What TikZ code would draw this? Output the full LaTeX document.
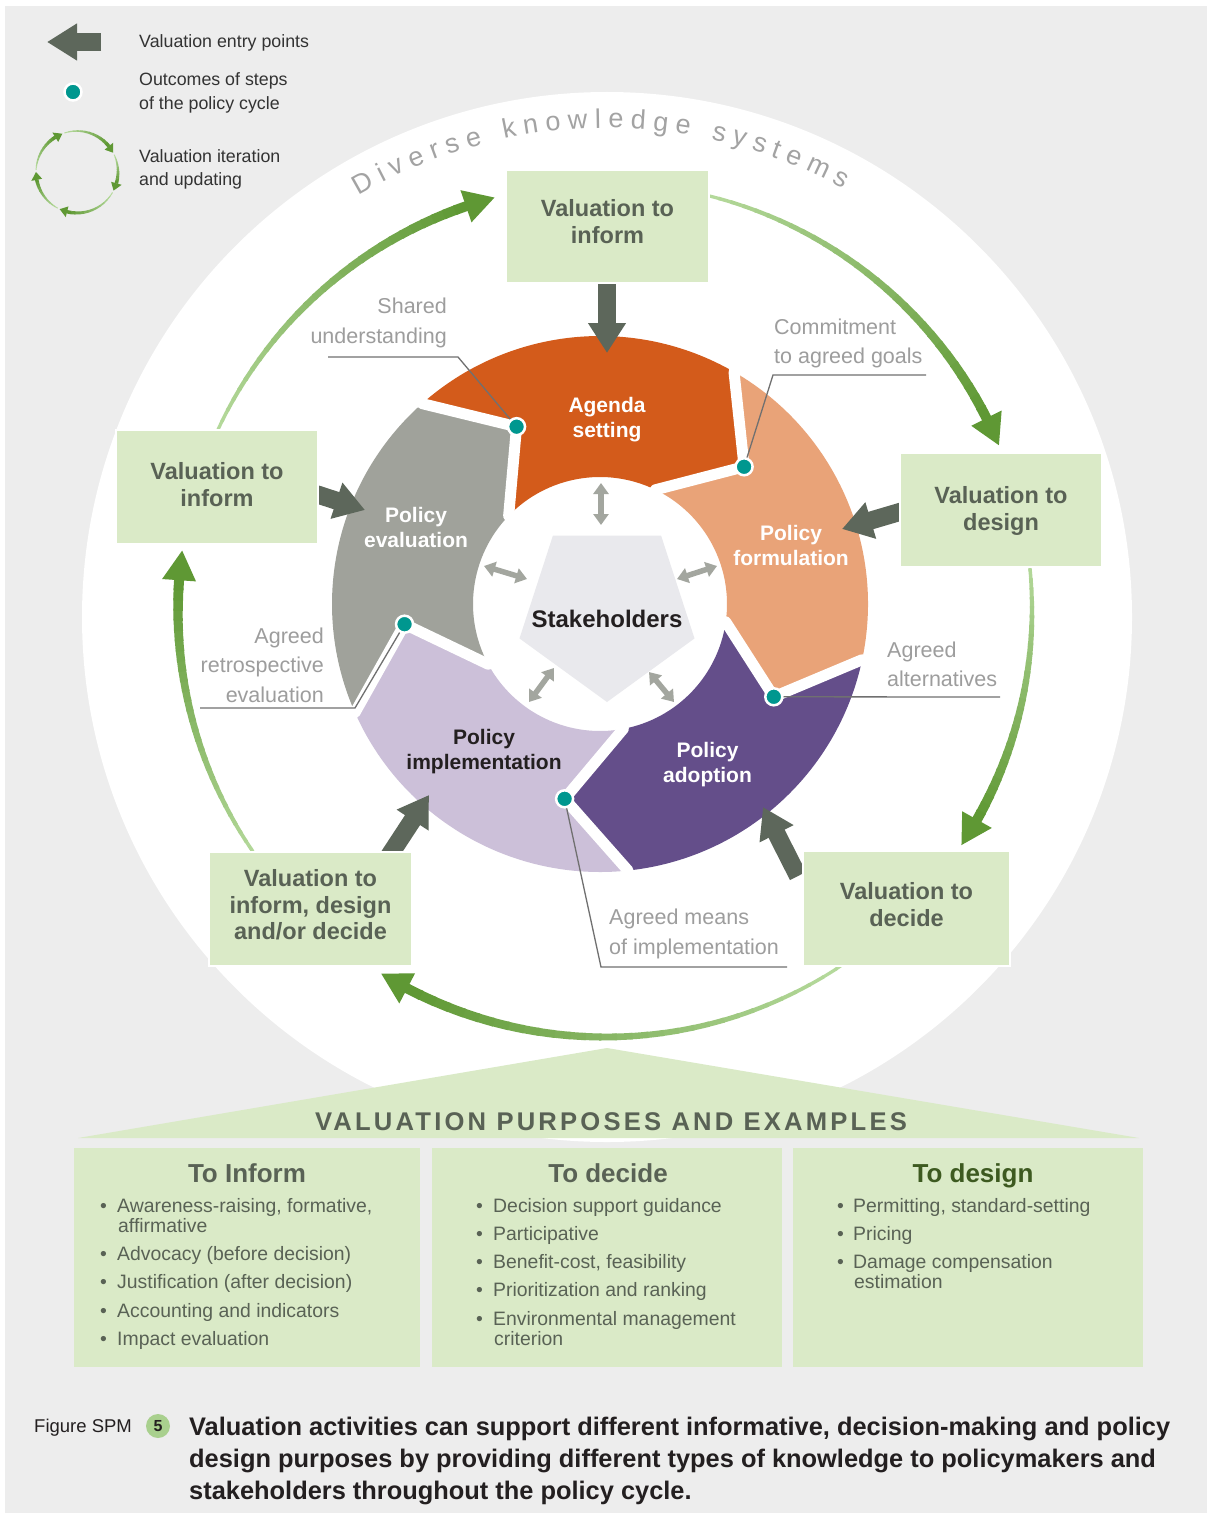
\documentclass[tikz,border=0pt]{standalone}
\usepackage{fontspec}
\setmainfont{Liberation Sans}
\usetikzlibrary{arrows.meta}

\definecolor{bggray}{HTML}{EDEDED}
\definecolor{boxgreen}{HTML}{DAEAC7}
\definecolor{boxtext}{HTML}{596255}
\definecolor{darkarrow}{HTML}{5D675B}
\definecolor{agendac}{HTML}{D35B1B}
\definecolor{formulc}{HTML}{E9A378}
\definecolor{adoptc}{HTML}{644E8A}
\definecolor{implemc}{HTML}{CCC0D9}
\definecolor{evalc}{HTML}{A0A29B}
\definecolor{tealdot}{HTML}{00978F}
\definecolor{gdark}{HTML}{5F9834}
\definecolor{glight}{HTML}{B7DB9E}
\definecolor{stakec}{HTML}{E9E9ED}
\definecolor{dblarrow}{HTML}{A3A69F}
\definecolor{calloutc}{HTML}{9D9D9D}
\definecolor{leaderc}{HTML}{707070}
\definecolor{designgreen}{HTML}{3D5A20}
\definecolor{legendtext}{HTML}{333333}
\definecolor{captiontext}{HTML}{231F20}
\definecolor{circgreen}{HTML}{A9D08E}
\definecolor{diversec}{HTML}{A3A3A3}

\newcommand\setfs[2]{\fontsize{#1pt}{#2pt}\selectfont}

% tapered, shaded arc with arrow head: radius, start, body end, head length (deg), w0, w1, head width, steps
\newcommand\taparc[8]{%
  \foreach \i in {1,...,#8}{%
    \pgfmathsetmacro\angA{#2+(#3-(#2))*(\i-1)/#8}%
    \pgfmathsetmacro\angB{#2+(#3-(#2))*\i/#8+0.3}%
    \pgfmathsetmacro\ww{#5+(#6-(#5))*(\i-1)/(#8-1)}%
    \pgfmathtruncatemacro\pc{100*(\i-1)/(#8-1)}%
    \draw[line width=\ww pt, gdark!\pc!glight] (\angA:#1) arc[start angle=\angA, end angle=\angB, radius=#1];%
  }%
  \fill[gdark] (#3:#1+#7/2) -- (#3+#4:#1) -- (#3:#1-#7/2) -- cycle;%
}

\tikzset{
  seglabel/.style={font=\setfs{21}{25}\bfseries, text=white, align=center, inner sep=0},
  callout/.style={font=\setfs{21.5}{29.5}, text=calloutc, inner sep=0},
  leader/.style={draw=leaderc, line width=1.3pt},
  vbox/.style={fill=boxgreen, draw=white, line width=2pt, inner sep=0},
  vtext/.style={align=center, inner sep=0, text=boxtext, font=\setfs{23.5}{27}\bfseries},
  entry/.style={draw=darkarrow, line width=18pt, -{Triangle[width=36pt,length=30pt]}},
  dbl/.style={draw=dblarrow, line width=5.5pt, {Triangle[width=15pt,length=11pt]}-{Triangle[width=15pt,length=11pt]}},
  outdot/.style={circle, fill=tealdot, draw=white, line width=2.5pt, minimum size=17pt, inner sep=0},
  bul/.style={font=\setfs{19.4}{20}, text=boxtext, anchor=base west, inner sep=0},
  colbox/.style={fill=boxgreen, inner sep=0},
  head/.style={font=\setfs{26}{26}\bfseries, text=boxtext, anchor=base, inner sep=0},
  gap/.style={white, line width=11pt, line join=round},
}

\begin{document}
\begin{tikzpicture}[x=1pt,y=-1pt]
\useasboundingbox (0,0) rectangle (1211,1517);
\fill[white] (0,0) rectangle (1211,1517);
\fill[bggray] (5,6) rectangle (1207,1513);
\fill[white] (607,617) circle[radius=525];

% ---------- Diverse knowledge systems ----------
\begin{scope}[shift={(607,617)}]
\gdef\curpos{0}
\foreach \ch/\w in {D/19.5,i/6,v/13.5,e/15,r/9,s/13.5,e/15,{}/7.5,k/13.5,n/15,o/15,w/19.5,l/6,e/15,d/15,g/15,e/15,{}/7.5,s/13.5,y/13.5,s/13.5,t/7.5,e/15,m/22.5,s/13.5}{
  \pgfmathsetmacro\ang{-120.5+(\curpos+\w/2)*0.11717}
  \pgfmathsetmacro\rot{-1*(\ang)-90}
  \node[anchor=base, rotate=\rot, inner sep=0, text=diversec, font=\setfs{27}{27}] at (\ang:489) {\ch};
  \pgfmathsetmacro\nx{\curpos+\w+7.2}
  \xdef\curpos{\nx}
}
\end{scope}

% ---------- green iteration arcs ----------
\begin{scope}[shift={(605,610)}]
\taparc{427}{-157}{-109}{4}{3}{10}{34}{30}
\taparc{427}{-78}{-26.7}{4}{3}{10}{34}{30}
\taparc{427}{-8}{29.4}{4}{3}{10}{34}{30}
\taparc{427}{55}{117.6}{4}{3}{10}{34}{30}
\taparc{427}{143}{184}{4}{3}{10}{34}{30}
\end{scope}

% ---------- policy cycle ring ----------
\begin{scope}[shift={(600,604)}]
\fill[agendac] (-131.6:268) arc[start angle=-131.6, end angle=-60, radius=268] -- (-43.6:199) -- (-64.1:127)
   arc[start angle=-64.1, end angle=-136, radius=127] -- (-115.2:196) -- cycle;
\fill[formulc] (-60:268) arc[start angle=-60, end angle=12, radius=268] -- (28.1:197) -- (8.1:127)
   arc[start angle=8.1, end angle=-64.1, radius=127] -- (-43.6:199) -- cycle;
\fill[adoptc] (12:268) arc[start angle=12, end angle=84, radius=268] -- (100.3:198) -- (79.4:127)
   arc[start angle=79.4, end angle=8.1, radius=127] -- (28.1:197) -- cycle;
\fill[implemc] (84:268) arc[start angle=84, end angle=156.1, radius=268] -- (174.1:196.5) -- (151.7:127)
   arc[start angle=151.7, end angle=79.4, radius=127] -- (100.3:198) -- cycle;
\fill[evalc] (156.1:268) arc[start angle=156.1, end angle=228.4, radius=268] -- (244.8:196) -- (224:127)
   arc[start angle=224, end angle=151.7, radius=127] -- (174.1:196.5) -- cycle;
% white gaps
\draw[gap] (-131.6:290) -- (-131.6:268) -- (-115.2:196) -- (-136:127) -- (-136:110);
\draw[gap] (-60:290) -- (-60:268) -- (-43.6:199) -- (-64.1:127) -- (-64.1:110);
\draw[gap] (12:290) -- (12:268) -- (28.1:197) -- (8.1:127) -- (8.1:110);
\draw[gap] (84:290) -- (84:268) -- (100.3:198) -- (79.4:127) -- (79.4:110);
\draw[gap] (156.1:290) -- (156.1:268) -- (174.1:196.5) -- (151.7:127) -- (151.7:110);
% outcome points
\coordinate (d1) at (-115.2:196);
\coordinate (d2) at (-43.6:199);
\coordinate (d3) at (28.1:197);
\coordinate (d4) at (100.3:198);
\coordinate (d5) at (174.1:196.5);
\end{scope}

% ---------- stakeholders ----------
\begin{scope}[shift={(607,610)}]
\fill[stakec] (90:92) -- (162:92) -- (234:92) -- (306:92) -- (18:92) -- cycle;
\end{scope}
\node[font=\setfs{24}{24}\bfseries, text=captiontext, anchor=base, inner sep=0] (stake) at (607,627.5) {Stakeholders};

\coordinate (sa1) at (601,483); \coordinate (sa2) at (601,525);
\coordinate (sb1) at (484,566); \coordinate (sb2) at (527,579);
\coordinate (sc1) at (677,579); \coordinate (sc2) at (717,566);
\coordinate (sd1) at (554,668); \coordinate (sd2) at (529,702);
\coordinate (se1) at (649,672); \coordinate (se2) at (674,702);
\draw[dbl] (sa1) -- (sa2);
\draw[dbl] (sb1) -- (sb2);
\draw[dbl] (sc1) -- (sc2);
\draw[dbl] (sd1) -- (sd2);
\draw[dbl] (se1) -- (se2);

% ---------- callouts ----------
\node[callout, anchor=east, align=right] (cShared) at (447,323) {Shared\\understanding};
\node[callout, anchor=west, align=left] (cCommit) at (774,343.5) {Commitment\\to agreed goals};
\node[callout, anchor=west, align=left] (cAlt) at (887,664.5) {Agreed\\alternatives};
\node[callout, anchor=west, align=left] (cMeans) at (609,934) {Agreed means\\of implementation};
\node[callout, anchor=east, align=right] (cRetro) at (324,665) {Agreed\\retrospective\\evaluation};

\coordinate (l1a) at (328,357); \coordinate (l1b) at (458,357);
\coordinate (l2a) at (926,375); \coordinate (l2b) at (773,375);
\coordinate (l3a) at (1000,697);
\coordinate (l4a) at (787,967); \coordinate (l4b) at (601,967);
\coordinate (l5a) at (200,708); \coordinate (l5b) at (355,708);
\draw[leader] (l1a) -- (l1b) -- (d1);
\draw[leader] (l2a) -- (l2b) -- (d2);
\draw[leader] (l3a) -- (d3);
\draw[leader] (l4a) -- (l4b) -- (d4);
\draw[white, line width=4pt] (l5b) -- (d5);
\draw[leader] (l5a) -- (l5b) -- (d5);

\node[outdot] (dot1) at (d1) {};
\node[outdot] (dot2) at (d2) {};
\node[outdot] (dot3) at (d3) {};
\node[outdot] (dot4) at (d4) {};
\node[outdot] (dot5) at (d5) {};

% ---------- segment labels ----------
\node[seglabel] (tAgenda) at (607,420) {Agenda\\setting};
\node[seglabel] (tForm) at (791,545) {Policy\\formulation};
\node[seglabel] (tAdopt) at (707.5,764.5) {Policy\\adoption};
\node[seglabel, text=captiontext] (tImpl) at (484,752) {Policy\\implementation};
\node[seglabel] (tEval) at (416,527) {Policy\\evaluation};

% ---------- entry arrows ----------
\coordinate (eTopS) at (607,281);  \coordinate (eTopT) at (607,353);
\coordinate (eEvS) at (316,494);   \coordinate (eEvT) at (365,510);
\coordinate (eFoS) at (903,511);   \coordinate (eFoT) at (842,529);
\coordinate (eImS) at (389,856);   \coordinate (eImT) at (429,795);
\coordinate (eAdS) at (798,876);   \coordinate (eAdT) at (763,807);
\draw[entry] (eTopS) -- (eTopT);
\draw[entry] (eEvS) -- (eEvT);
\draw[entry] (eFoS) -- (eFoT);
\draw[entry] (eImS) -- (eImT);
\draw[entry] (eAdS) -- (eAdT);

% ---------- valuation boxes ----------
\node[vbox, minimum width=203pt, minimum height=113pt] (vti) at (607.5,226.5) {};
\node[vtext] (vtiT) at (607.5,222) {Valuation to\\inform};
\node[vbox, minimum width=202pt, minimum height=114pt] (vinl) at (217,487) {};
\node[vtext] (vinlT) at (217,485) {Valuation to\\inform};
\node[vbox, minimum width=202pt, minimum height=114pt] (vdes) at (1001,510) {};
\node[vtext] (vdesT) at (1001,510.5) {Valuation to\\design};
\node[vbox, minimum width=207pt, minimum height=115pt] (vdec) at (906.5,908.5) {};
\node[vtext] (vdecT) at (906.5,904.5) {Valuation to\\decide};
\node[vbox, minimum width=203pt, minimum height=114pt] (vidd) at (310.5,909) {};
\node[vtext, font=\setfs{23.5}{26.5}\bfseries] (viddT) at (310.5,905) {Valuation to\\inform, design\\and/or decide};

% ---------- legend ----------
\coordinate (lgS) at (101,42); \coordinate (lgT) at (47,42);
\draw[draw=darkarrow, line width=18pt, -{Triangle[width=35pt,length=30pt]}] (lgS) -- (lgT);
\node[outdot] (lgDot) at (73,92) {};
\begin{scope}[shift={(77,172)}]
\taparc{41}{-177}{-122}{11}{1}{3.5}{11}{12}
\taparc{41}{-108}{-39}{11}{1}{3.5}{11}{12}
\taparc{41}{-25}{16}{11}{1}{3.5}{11}{12}
\taparc{41}{30}{104}{11}{1}{3.5}{11}{12}
\taparc{41}{118}{169}{11}{1}{3.5}{11}{12}
\end{scope}
\node[anchor=west, inner sep=0, text=legendtext, font=\setfs{17.8}{23.5}] (lg1) at (139,43) {Valuation entry points};
\node[anchor=west, inner sep=0, text=legendtext, font=\setfs{17.8}{23.5}, align=left] (lg2) at (139,93) {Outcomes of steps\\of the policy cycle};
\node[anchor=west, inner sep=0, text=legendtext, font=\setfs{17.8}{23}, align=left] (lg3) at (139,169) {Valuation iteration\\and updating};

% ---------- purposes and examples ----------
\fill[boxgreen] (78,1138) -- (607,1048) -- (1139,1138) -- cycle;
\node[head, font=\setfs{25.6}{26}\bfseries\addfontfeature{LetterSpace=12.5}] (title) at (611,1130) {VALUATION PURPOSES AND EXAMPLES};

\node[colbox, minimum width=346pt, minimum height=219pt] (col1) at (247,1257.5) {};
\node[colbox, minimum width=350pt, minimum height=219pt] (col2) at (607,1257.5) {};
\node[colbox, minimum width=350pt, minimum height=219pt] (col3) at (968,1257.5) {};

\node[head] (h1) at (247,1182.5) {To Inform};
\node[head] (h2) at (608,1182.5) {To decide};
\node[head, text=designgreen] (h3) at (973,1182.5) {To design};

\node[bul] (b1a) at (100,1212.5) {•}; \node[bul] (t1a) at (117,1212.5) {Awareness-raising, formative,};
\node[bul] (t1a2) at (118,1232.5) {affirmative};
\node[bul] (b1b) at (100,1260.5) {•}; \node[bul] (t1b) at (117,1260.5) {Advocacy (before decision)};
\node[bul] (b1c) at (100,1288.5) {•}; \node[bul] (t1c) at (117,1288.5) {Justification (after decision)};
\node[bul] (b1d) at (100,1317.5) {•}; \node[bul] (t1d) at (117,1317.5) {Accounting and indicators};
\node[bul] (b1e) at (100,1345.5) {•}; \node[bul] (t1e) at (117,1345.5) {Impact evaluation};

\node[bul] (b2a) at (476,1212.5) {•}; \node[bul] (t2a) at (493,1212.5) {Decision support guidance};
\node[bul] (b2b) at (476,1240.5) {•}; \node[bul] (t2b) at (493,1240.5) {Participative};
\node[bul] (b2c) at (476,1268.5) {•}; \node[bul] (t2c) at (493,1268.5) {Benefit-cost, feasibility};
\node[bul] (b2d) at (476,1296.5) {•}; \node[bul] (t2d) at (493,1296.5) {Prioritization and ranking};
\node[bul] (b2e) at (476,1325.5) {•}; \node[bul] (t2e) at (493,1325.5) {Environmental management};
\node[bul] (t2e2) at (494,1345.5) {criterion};

\node[bul] (b3a) at (837,1212.5) {•}; \node[bul] (t3a) at (853,1212.5) {Permitting, standard-setting};
\node[bul] (b3b) at (837,1240.5) {•}; \node[bul] (t3b) at (853,1240.5) {Pricing};
\node[bul] (b3c) at (837,1268.5) {•}; \node[bul] (t3c) at (853,1268.5) {Damage compensation};
\node[bul] (t3c2) at (854,1288.5) {estimation};

% ---------- caption ----------
\node[anchor=base west, inner sep=0, text=captiontext, font=\setfs{18.5}{20}] (figl) at (34,1432) {Figure SPM};
\node[circle, fill=circgreen, minimum size=24pt, inner sep=0, text=captiontext, font=\setfs{16}{16}\bfseries] (fig5) at (158,1426) {5};
\node[anchor=base west, inner sep=0, text=captiontext, font=\setfs{25.4}{32}\bfseries] (cap1) at (189,1435) {Valuation activities can support different informative, decision-making and policy};
\node[anchor=base west, inner sep=0, text=captiontext, font=\setfs{25.4}{32}\bfseries] (cap2) at (189,1467) {design purposes by providing different types of knowledge to policymakers and};
\node[anchor=base west, inner sep=0, text=captiontext, font=\setfs{25.4}{32}\bfseries] (cap3) at (189,1499) {stakeholders throughout the policy cycle.};
\end{tikzpicture}
\end{document}
